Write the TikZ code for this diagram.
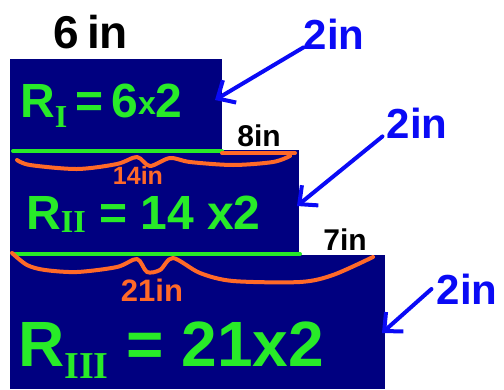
\documentclass[tikz,border=0pt]{standalone}
\usepackage{fontspec}
\setmainfont{Liberation Sans}
\newfontfamily\subfont{Liberation Serif}
\usetikzlibrary{arrows.meta}
\definecolor{boardnavy}{RGB}{0,0,128}
\definecolor{inkgreen}{RGB}{40,235,40}
\definecolor{inkorange}{RGB}{255,105,40}
\definecolor{inkblue}{RGB}{10,10,245}
\tikzset{
  box/.style={fill=boardnavy},
  greenline/.style={draw=inkgreen,line width=4pt,line cap=round},
  orangeline/.style={draw=inkorange,line width=4pt,line cap=round,line join=round},
  bluearrow/.style={draw=inkblue,line width=4pt,line cap=round,line join=round,
    -{Straight Barb[length=14pt,width=26pt,line width=4pt]}},
  blacklab/.style={inner sep=0pt,text=black},
  bluelab/.style={inner sep=0pt,text=inkblue,font=\bfseries\fontsize{42}{42}\selectfont},
  orangelab/.style={inner sep=0pt,text=inkorange},
  formula/.style={inner sep=0pt,text=inkgreen,anchor=base west},
}
\newcommand{\rnsub}[3]{\raisebox{-#2}{\fontsize{#1}{#1}\selectfont\subfont\bfseries #3}}
\begin{document}
\begin{tikzpicture}[x=1pt,y=-1pt]
\useasboundingbox (0,0) rectangle (504,389);
% rectangles
\fill[box] (10,59) rectangle (222,151);
\fill[box] (10,150) rectangle (299,255);
\node[blacklab,font=\bfseries\fontsize{30}{30}\selectfont] (seven) at (345,240) {7in};
\fill[box] (10,255) rectangle (385,389);
% dimension labels
\node[blacklab,font=\bfseries\fontsize{46}{46}\selectfont] (six) at (91,32) {6\,in};
\node[blacklab,font=\bfseries\fontsize{30}{30}\selectfont] (eight) at (259,136) {8in};
% green and orange lines
\coordinate (g1a) at (13,151); \coordinate (g1b) at (222,151);
\coordinate (o1a) at (222,153); \coordinate (o1b) at (295,153);
\draw[greenline] (g1a) -- (g1b);
\draw[orangeline] (o1a) -- (o1b);
\draw[orangeline] plot[smooth,tension=0.5] coordinates {(17,160) (30,165) (77,169) (117,164) (137,157) (150,166) (170,158) (190,162) (233,165) (273,162) (290,156)};
\node[orangelab,font=\bfseries\fontsize{25}{25}\selectfont] (fourteen) at (138,175) {14in};
\coordinate (g2a) at (13,254); \coordinate (g2b) at (300,254);
\draw[greenline] (g2a) -- (g2b);
\draw[orangeline] plot[smooth,tension=0.5] coordinates {(12,253) (27,265) (45,270) (77,272) (117,267) (137,259) (147,272) (160,270) (173,258) (200,273) (233,281) (300,282) (333,275) (373,257)};
\node[orangelab,font=\bfseries\fontsize{31}{31}\selectfont] (twentyone) at (152,290) {21in};
% formulas
\node[formula,font=\bfseries\fontsize{48}{48}\selectfont] (f1) at (20,117)
  {R\rnsub{32}{10pt}{I}\,=\,6\raisebox{3pt}{\fontsize{32}{32}\selectfont x}2};
\node[formula,font=\bfseries\fontsize{48}{48}\selectfont] (f2) at (26,229)
  {R\rnsub{32}{3pt}{II} = 14 x2};
\node[formula,font=\bfseries\fontsize{64}{64}\selectfont] (f3) at (18,366)
  {R\rnsub{38}{12pt}{III} = 21x2};
% blue labels and arrows
\node[bluelab] (a1) at (334,34) {2in};
\node[bluelab] (a2) at (417,123) {2in};
\node[bluelab] (a3) at (467,289) {2in};
\coordinate (t1) at (215,100);
\coordinate (t2) at (297,206);
\coordinate (t3) at (382,333);
\draw[bluearrow] ([shift={(0,-2)}]a1.south west) -- (t1);
\draw[bluearrow] ([shift={(-4,-2)}]a2.south west) -- (t2);
\draw[bluearrow] ([shift={(-5,0)}]a3.west) -- (t3);
\end{tikzpicture}
\end{document}
